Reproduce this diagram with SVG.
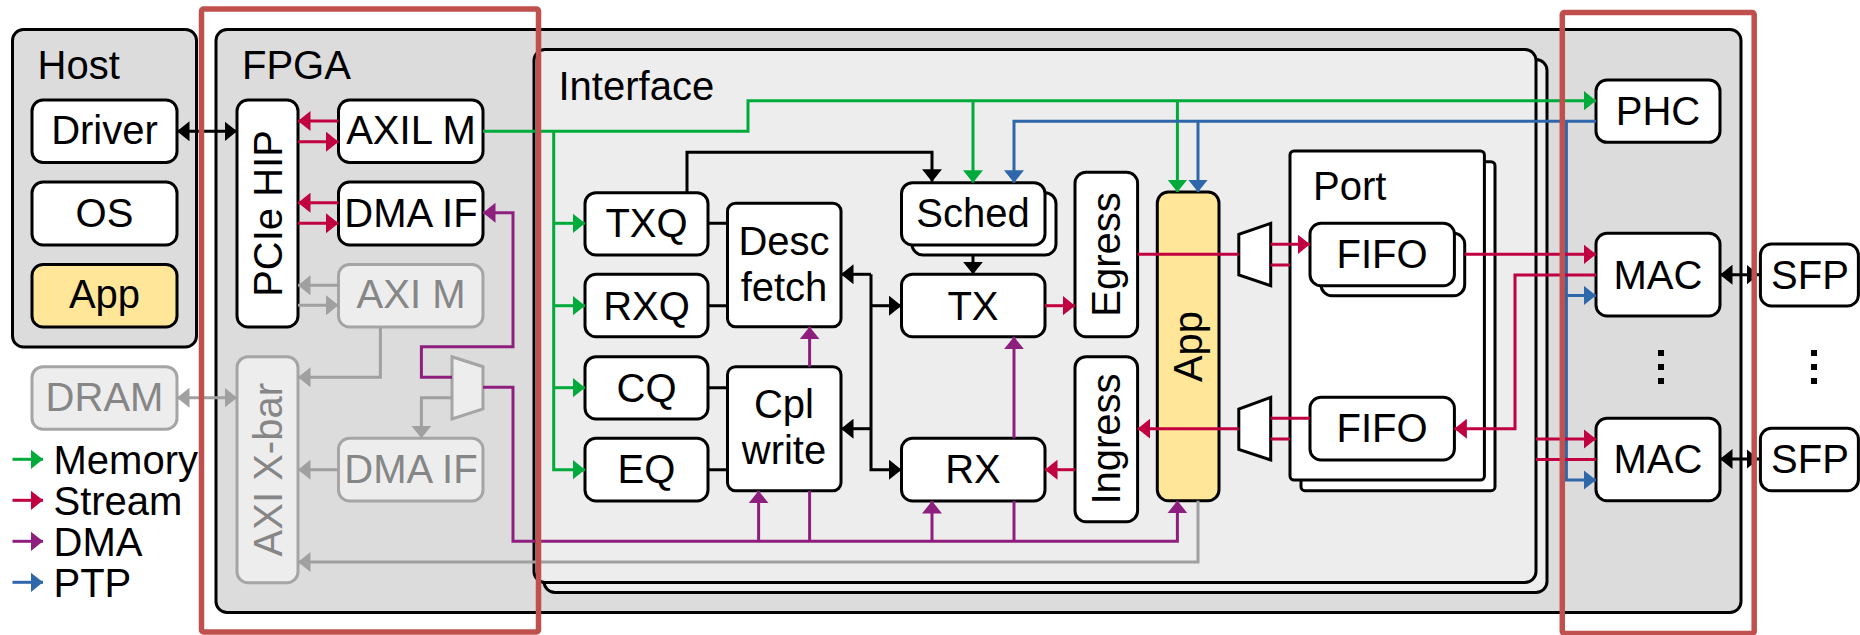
<svg xmlns="http://www.w3.org/2000/svg" width="1860" height="635" viewBox="0 0 1860 635">
<style>
text{font-family:"Liberation Sans",Arial,sans-serif;font-size:40px;fill:#000}
text.m{text-anchor:middle}
text.g{fill:#868686}
.b{fill:#fff;stroke:#000;stroke-width:3}
.y{fill:#ffe699;stroke:#000;stroke-width:3}
.c{fill:#dcdcdc;stroke:#000;stroke-width:3}
.i{fill:#ededed;stroke:#000;stroke-width:3}
.d{fill:#ededed;stroke:#a5a5a5;stroke-width:3}
.hl{fill:none;stroke:#c0504d;stroke-width:5.5}
#connectors path{fill:none;stroke-width:3}
.k{stroke:#000}.gy{stroke:#a0a0a0}.gn{stroke:#00ab3c}.r{stroke:#c00040}.p{stroke:#8e1f7e}.bl{stroke:#2f67ab}
</style>
<defs>
<marker id="ak" markerUnits="userSpaceOnUse" markerWidth="13" markerHeight="20" refX="12.5" refY="10" orient="auto-start-reverse"><path d="M0 0L12.5 10L0 20z" fill="#000"/></marker>
<marker id="agy" markerUnits="userSpaceOnUse" markerWidth="13" markerHeight="20" refX="12.5" refY="10" orient="auto-start-reverse"><path d="M0 0L12.5 10L0 20z" fill="#a0a0a0"/></marker>
<marker id="agn" markerUnits="userSpaceOnUse" markerWidth="13" markerHeight="20" refX="12.5" refY="10" orient="auto"><path d="M0 0L12.5 10L0 20z" fill="#00ab3c"/></marker>
<marker id="ar" markerUnits="userSpaceOnUse" markerWidth="13" markerHeight="20" refX="12.5" refY="10" orient="auto"><path d="M0 0L12.5 10L0 20z" fill="#c00040"/></marker>
<marker id="ap" markerUnits="userSpaceOnUse" markerWidth="13" markerHeight="20" refX="12.5" refY="10" orient="auto"><path d="M0 0L12.5 10L0 20z" fill="#8e1f7e"/></marker>
<marker id="abl" markerUnits="userSpaceOnUse" markerWidth="13" markerHeight="20" refX="12.5" refY="10" orient="auto"><path d="M0 0L12.5 10L0 20z" fill="#2f67ab"/></marker>
</defs>

<g id="host"><rect class="c" x="12.5" y="29.5" width="184" height="317.5" rx="11"/><text x="37.5" y="79">Host</text></g>
<g id="fpga"><rect class="c" x="216" y="29.5" width="1525" height="583" rx="11"/><text x="242" y="79">FPGA</text></g>
<g id="interface-back"><rect class="i" x="544" y="59.5" width="1003" height="533" rx="11"/></g>
<g id="interface"><rect class="i" x="534" y="49.5" width="1002" height="533" rx="11"/><text x="558.5" y="100">Interface</text></g>

<g id="driver"><rect class="b" x="32" y="100" width="145" height="62.5" rx="11"/><text class="m" x="104.5" y="144">Driver</text></g>
<g id="os"><rect class="b" x="32" y="182" width="145" height="63" rx="11"/><text class="m" x="104.5" y="226.5">OS</text></g>
<g id="host-app"><rect class="y" x="32" y="264.5" width="145" height="62.5" rx="11"/><text class="m" x="104.5" y="308">App</text></g>
<g id="dram"><rect class="d" x="32" y="366.7" width="145" height="62.5" rx="11"/><text class="m g" x="104.5" y="411">DRAM</text></g>

<g id="pcie"><rect class="b" x="237" y="100" width="61" height="227" rx="11"/><text class="m" transform="translate(282 213.5) rotate(-90)">PCIe HIP</text></g>
<g id="axil"><rect class="b" x="338.5" y="100" width="144.5" height="62.5" rx="11"/><text class="m" x="411" y="144">AXIL M</text></g>
<g id="dmaif"><rect class="b" x="338.5" y="182" width="144.5" height="63" rx="11"/><text class="m" x="411" y="226.5">DMA IF</text></g>
<g id="axim"><rect class="d" x="338.5" y="264.5" width="144.5" height="62.5" rx="11"/><text class="m g" x="411" y="308">AXI M</text></g>
<g id="xbar"><rect class="d" x="237" y="356.7" width="61" height="226" rx="11"/><text class="m g" transform="translate(282 469.7) rotate(-90)">AXI X-bar</text></g>
<g id="dmaif2"><rect class="d" x="338.5" y="438.3" width="144.5" height="62.7" rx="11"/><text class="m g" x="411" y="483.3">DMA IF</text></g>
<g id="mux-dma"><path class="d" d="M452 356.7L483 366.7V409L452 419z"/></g>

<g id="txq"><rect class="b" x="585" y="192.7" width="123" height="62.3" rx="11"/><text class="m" x="646.5" y="237.3">TXQ</text></g>
<g id="rxq"><rect class="b" x="585" y="274.3" width="123" height="62.4" rx="11"/><text class="m" x="646.5" y="319.5">RXQ</text></g>
<g id="cq"><rect class="b" x="585" y="356.7" width="123" height="62.3" rx="11"/><text class="m" x="646.5" y="401.7">CQ</text></g>
<g id="eq"><rect class="b" x="585" y="438.3" width="123" height="62.7" rx="11"/><text class="m" x="646.5" y="483.3">EQ</text></g>
<g id="desc"><rect class="b" x="727.5" y="203.3" width="113.5" height="123.4" rx="8"/><text class="m" x="784" y="255">Desc</text><text class="m" x="784" y="300.5">fetch</text></g>
<g id="cpl"><rect class="b" x="727.5" y="366.7" width="113.5" height="124" rx="8"/><text class="m" x="784" y="418">Cpl</text><text class="m" x="784" y="464">write</text></g>
<g id="sched"><rect class="b" x="912" y="192.7" width="144" height="62.3" rx="11"/><rect class="b" x="901.5" y="182.7" width="143.5" height="62.3" rx="11"/><text class="m" x="973" y="227">Sched</text></g>
<g id="tx"><rect class="b" x="901.5" y="274.3" width="143.5" height="62.4" rx="11"/><text class="m" x="973" y="319.5">TX</text></g>
<g id="rx"><rect class="b" x="901.5" y="438.3" width="143.5" height="62.7" rx="11"/><text class="m" x="973" y="483.3">RX</text></g>
<g id="egress"><rect class="b" x="1075" y="172.3" width="62.6" height="164.4" rx="11"/><text class="m" transform="translate(1120 254.5) rotate(-90)">Egress</text></g>
<g id="ingress"><rect class="b" x="1075" y="356.7" width="62.6" height="165" rx="11"/><text class="m" transform="translate(1120 439) rotate(-90)">Ingress</text></g>
<g id="app"><rect class="y" x="1157.3" y="192" width="61.7" height="308.7" rx="11"/><text class="m" transform="translate(1202 346.5) rotate(-90)">App</text></g>
<g id="mux-tx"><path class="b" d="M1270.7 223.3L1238.8 234.3V275L1270.7 285.7z"/></g>
<g id="mux-rx"><path class="b" d="M1270.7 397.3L1238.8 409V449.3L1270.7 460z"/></g>
<g id="port"><rect class="b" x="1301" y="161.7" width="194" height="329" rx="4"/><rect class="b" x="1290" y="151" width="194.4" height="329" rx="4"/><text x="1313" y="200">Port</text></g>
<g id="fifo-tx"><rect class="b" x="1321" y="233.3" width="143.7" height="62.4" rx="11"/><rect class="b" x="1310" y="223.3" width="144.4" height="62.4" rx="11"/><text class="m" x="1382" y="268">FIFO</text></g>
<g id="fifo-rx"><rect class="b" x="1310" y="397.3" width="144.4" height="62.7" rx="11"/><text class="m" x="1382" y="442.3">FIFO</text></g>
<g id="phc"><rect class="b" x="1596" y="80" width="124" height="62.3" rx="11"/><text class="m" x="1658" y="124.5">PHC</text></g>
<g id="mac1"><rect class="b" x="1596" y="233.3" width="124" height="82.7" rx="11"/><text class="m" x="1658" y="288.5">MAC</text></g>
<g id="mac2"><rect class="b" x="1596" y="418.3" width="124" height="82.4" rx="11"/><text class="m" x="1658" y="473">MAC</text></g>
<g id="sfp1"><rect class="b" x="1760.4" y="244" width="98" height="62" rx="11"/><text class="m" x="1810" y="288.5">SFP</text></g>
<g id="sfp2"><rect class="b" x="1760.4" y="428.3" width="98" height="62.4" rx="11"/><text class="m" x="1810" y="473">SFP</text></g>

<g id="connectors">
<path class="k" marker-start="url(#ak)" marker-end="url(#ak)" d="M177 131.3H237"/>
<path class="k" marker-start="url(#ak)" marker-end="url(#ak)" d="M1720 274.7H1759"/>
<path class="k" marker-start="url(#ak)" marker-end="url(#ak)" d="M1720 459H1759"/>
<path class="k" marker-end="url(#ak)" d="M687 192.7V152.3H932V181.7"/>
<path class="k" marker-end="url(#ak)" d="M973 255V274.3"/>
<path class="k" marker-end="url(#ak)" d="M871 274.3V469.7H901.5"/>
<path class="k" marker-end="url(#ak)" d="M871 274.3H841"/>
<path class="k" marker-end="url(#ak)" d="M871 305.7H901.5"/>
<path class="k" marker-end="url(#ak)" d="M871 428.7H841"/>
<path class="k" d="M708 223.3H727.5M708 305.7H727.5M708 387.7H727.5M708 469.7H727.5"/>

<path class="gy" marker-start="url(#agy)" marker-end="url(#agy)" d="M177 397.7H237"/>
<path class="gy" marker-end="url(#agy)" d="M338.5 285.3H298"/>
<path class="gy" marker-end="url(#agy)" d="M298 305.3H338.5"/>
<path class="gy" marker-end="url(#agy)" d="M380.4 327V377.3H298"/>
<path class="gy" marker-end="url(#agy)" d="M338.5 469.7H298"/>
<path class="gy" marker-end="url(#agy)" d="M452 397.7H421.4V438.3"/>
<path class="gy" marker-end="url(#agy)" d="M1198 500.7V562H298"/>

<path class="gn" marker-end="url(#agn)" d="M483 131.3H748V100.7H1596"/>
<path class="gn" marker-end="url(#agn)" d="M553.7 131.3V469.7H585"/>
<path class="gn" marker-end="url(#agn)" d="M553.7 223.3H585"/>
<path class="gn" marker-end="url(#agn)" d="M553.7 305.7H585"/>
<path class="gn" marker-end="url(#agn)" d="M553.7 387.7H585"/>
<path class="gn" marker-end="url(#agn)" d="M973 100.7V182.7"/>
<path class="gn" marker-end="url(#agn)" d="M1177.4 100.7V192"/>

<path class="bl" marker-end="url(#abl)" d="M1596 121.3H1014V182.7"/>
<path class="bl" marker-end="url(#abl)" d="M1198 121.3V192"/>
<path class="bl" marker-end="url(#abl)" d="M1566.4 121.3V480H1596"/>
<path class="bl" marker-end="url(#abl)" d="M1566.4 295.5H1596"/>

<path class="r" marker-end="url(#ar)" d="M338.5 121H298"/>
<path class="r" marker-end="url(#ar)" d="M298 141.7H338.5"/>
<path class="r" marker-end="url(#ar)" d="M338.5 202.7H298"/>
<path class="r" marker-end="url(#ar)" d="M298 223.3H338.5"/>
<path class="r" marker-end="url(#ar)" d="M1045 305.7H1075"/>
<path class="r" marker-end="url(#ar)" d="M1075 469.7H1045"/>
<path class="r" d="M1137.6 254.3H1238.8"/>
<path class="r" marker-end="url(#ar)" d="M1238.8 428.7H1137.6"/>
<path class="r" marker-end="url(#ar)" d="M1270.7 244.3H1310"/>
<path class="r" d="M1270.7 265H1290M1270.7 418.3H1310M1270.7 439H1290"/>
<path class="r" marker-end="url(#ar)" d="M1464.7 254.3H1596"/>
<path class="r" marker-end="url(#ar)" d="M1596 275H1515V428.7H1454.4"/>
<path class="r" marker-end="url(#ar)" d="M1536 439H1596"/>
<path class="r" d="M1536 459.5H1596"/>

<path class="p" marker-end="url(#ap)" d="M483 387.3H513V541.3H1177.4V500.7"/>
<path class="p" marker-end="url(#ap)" d="M452 377.3H421.4V346.7H513V212.7H483"/>
<path class="p" marker-end="url(#ap)" d="M758.6 541.3V490.7"/>
<path class="p" d="M809.6 541.3V490.7"/>
<path class="p" marker-end="url(#ap)" d="M809.6 366.7V326.7"/>
<path class="p" marker-end="url(#ap)" d="M932 541.3V501"/>
<path class="p" d="M1014 541.3V501"/>
<path class="p" marker-end="url(#ap)" d="M1014 438.3V336.7"/>

<path class="gn" marker-end="url(#agn)" d="M12.5 459.3H43"/>
<path class="r" marker-end="url(#ar)" d="M12.5 500.3H43"/>
<path class="p" marker-end="url(#ap)" d="M12.5 541.3H43"/>
<path class="bl" marker-end="url(#abl)" d="M12.5 582.3H43"/>
</g>

<g id="legend"><text x="53.5" y="474">Memory</text><text x="53.5" y="515">Stream</text><text x="53.5" y="556">DMA</text><text x="53.5" y="597">PTP</text></g>
<g id="ellipsis" fill="#000"><path d="M1658 350h6v6h-6zM1658 364h6v6h-6zM1658 378h6v6h-6zM1811 350h6v6h-6zM1811 364h6v6h-6zM1811 378h6v6h-6z"/></g>
<rect class="hl" x="201.5" y="9" width="337" height="623" rx="2"/>
<rect class="hl" x="1562.3" y="12.5" width="191.9" height="621" rx="2"/>
</svg>
